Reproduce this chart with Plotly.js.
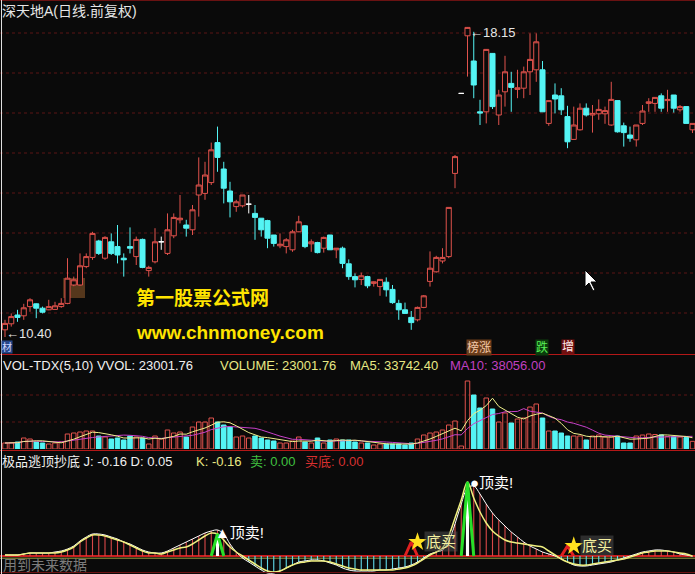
<!DOCTYPE html>
<html><head><meta charset="utf-8">
<script src="https://cdn.plot.ly/plotly-3.0.1.min.js"></script>
<style>html,body{margin:0;padding:0;background:#0a0a0a;}#c{width:695px;height:574px;}</style>
</head><body><div id="c"></div>
<script>
// ---- data ----
const stockName = '深天地A(日线.前复权)';
const opens = [10.58,10.73,10.95,10.93,11.16,11.23,11.12,11.08,11.09,11.16, 11.24,11.70,11.70,12.16,12.39,12.80,12.37,12.78,12.66,12.37, 12.66,12.41,12.84,12.06,12.28,12.78,12.49,12.93,13.33,13.20, 13.08,13.95,13.99,14.26,15.26,14.60,14.05,13.66,13.68,13.72, 13.49,13.37,13.31,12.95,12.68,12.66,12.58,13.03,13.18,12.73, 12.76,12.62,12.95,12.58,12.62,12.23,11.91,11.84,11.91,11.74, 11.66,11.77,11.59,11.24,11.08,10.89,10.83,11.14,11.79,12.03, 12.30,12.41,14.49,16.49,17.93,17.30,16.03,16.03,17.49,15.95, 16.53,16.74,16.59,16.62,17.03,17.08,17.08,15.74,16.45,16.43, 15.91,15.34,15.58,16.12,15.95,15.98,15.98,15.70,16.31,15.68, 15.45,15.33,15.74,16.24,16.24,16.43,16.31,16.45,16.08,16.16, 15.58];
const highs = [10.83,10.99,11.08,11.23,11.37,11.24,11.16,11.33,11.28,11.37, 12.37,11.91,12.49,12.49,13.03,12.83,12.92,12.99,13.20,12.49, 13.14,12.91,12.86,12.18,13.12,12.91,13.49,13.49,13.95,13.33, 13.70,14.89,14.78,15.26,15.66,14.78,14.28,13.83,13.95,13.95, 13.70,13.37,13.33,12.95,12.99,12.87,13.08,13.43,13.20,12.84, 12.78,12.91,12.95,12.62,12.66,12.34,11.99,12.01,11.93,11.79, 11.84,11.89,11.70,11.33,11.26,11.05,11.16,11.45,12.54,12.43, 12.62,13.64,14.95,16.49,18.15,18.03,16.33,17.60,17.50,16.58, 17.43,17.03,17.08,17.16,17.99,17.99,17.30,16.31,16.74,16.62, 16.18,16.16,16.24,16.24,16.20,16.34,16.16,16.78,16.31,15.76, 15.66,15.70,16.20,16.37,16.40,16.49,16.58,16.45,16.20,16.16, 15.74];
const lows = [10.40,10.66,10.78,10.83,11.03,10.87,10.99,11.07,11.08,11.13, 11.22,11.67,11.68,12.12,12.33,12.45,12.33,12.45,12.24,11.91, 12.49,12.20,12.12,11.91,12.24,12.58,12.45,12.87,13.24,12.91, 12.95,13.41,13.83,14.20,14.53,13.74,13.39,13.53,13.64,13.49, 12.83,12.91,12.62,12.66,12.62,12.49,12.53,13.02,12.62,12.53, 12.49,12.51,12.58,12.37,12.12,11.83,11.64,11.70,11.62,11.66, 11.43,11.41,11.23,10.83,10.98,10.58,10.79,11.12,11.66,12.01, 12.24,12.37,14.12,16.49,16.91,16.37,15.70,15.74,16.10,15.70, 16.16,16.03,16.37,16.37,16.45,16.78,16.03,15.68,15.99,15.95, 15.12,15.33,15.56,15.91,15.51,15.83,15.73,15.68,15.51,15.16, 15.28,15.16,15.70,16.03,16.03,16.03,16.03,16.01,16.03,15.74, 15.50];
const closes = [10.74,10.91,10.89,11.13,11.33,11.12,11.02,11.16,11.18,11.24, 11.87,11.83,12.18,12.41,12.99,12.49,12.89,12.49,12.45,12.33, 12.62,12.84,12.14,12.14,12.78,12.78,13.08,13.39,13.37,13.12, 13.58,14.20,14.45,15.08,14.89,14.12,13.78,13.78,13.95,13.72, 13.39,13.08,12.87,12.74,12.72,12.83,13.03,13.28,12.66,12.78, 12.51,12.89,12.58,12.62,12.24,11.91,11.83,11.93,11.68,11.78, 11.84,11.58,11.26,11.08,10.99,10.76,11.14,11.43,12.12,12.39, 12.39,13.64,14.91,16.49,18.14,16.70,16.00,17.59,16.16,16.45, 17.03,16.64,16.63,17.03,17.34,17.78,16.03,16.31,16.35,16.08, 15.28,15.70,16.12,15.95,15.99,16.09,16.06,16.34,15.53,15.51, 15.37,15.70,16.05,16.28,16.39,16.12,16.34,16.12,16.16,15.74, 15.74];
const volumes = [18000,18000,21000,33000,30000,21000,18000,15000,18000,21000, 45000,48000,51000,54000,54000,39000,36000,30000,33000,27000, 39000,36000,33000,15000,39000,30000,57000,48000,51000,36000, 66000,81000,81000,93000,81000,72000,66000,36000,39000,33000, 39000,33000,27000,24000,18000,18000,24000,36000,21000,18000, 33000,18000,27000,30000,27000,27000,21000,18000,18000,12000, 15000,15000,15000,15000,12000,18000,30000,42000,48000,51000, 57000,72000,84000,9000,204000,162000,123000,153000,120000,81000, 108000,78000,90000,93000,126000,135000,93000,54000,54000,48000, 39000,39000,39000,27000,39000,42000,36000,36000,39000,18000, 18000,39000,42000,45000,43500,42348,37500,37500,36000,34710.24, 23001.76];
// indicator lines
const lineK = [1,1,1,2,3,3,3,3,3,4, 6,9,14,18,21,21,20,18,16,14, 11,8,5,3,3,2,4,6,8,9, 12,16,20,23,22,16,9,4,0,-4, -8,-12,-15,-16,-15,-12,-9,-7,-6,-5, -5,-5,-6,-8,-10,-12,-13,-14,-14,-14, -14,-14,-14,-13,-12,-10,-7,-3,1,4, 8,20,38,56,74,58,44,33,25,20, 16,14,13,12,11,10,9,5,1,-3, -6,-8,-9,-9,-8,-7,-6,-5,-4,-3, -1,1,3,4,5,5,5,4,3,2, -0.16];
const lineJ = [1,1,1,2,3,3,3,3,4,5, 7,10,15,19,22,22,21,19,17,14, 12,9,6,4,3,3,5,8,11,14, 17,20,23,25,26,22,12,4,-2,-6, -10,-14,-17,-17,-15,-12,-9,-6,-5,-4, -4,-5,-7,-9,-12,-14,-15,-15,-15,-15, -14,-14,-13,-12,-11,-9,-6,-2,2,4, 6,15,32,52,68,70,62,52,43,36, 30,24,19,14,10,7,4,2,0,-3, -6,-9,-10,-10,-9,-8,-7,-6,-4,-2, 0,2,4,5,6,6,5,4,2,1, -0.16];
const lastD = 0.05;
const sellIdx = [34, 74];
const buyIdx = [65, 90];
const buyHeight = [14, 10];
const sellValue = 0.00, buyValue = 0.00;

// ---- drawing ----
const W = 695, H = 574;
const FONT = 'Liberation Sans, Arial, Noto Sans CJK SC, sans-serif';
const RED = '#e0524c', CYAN = '#54f4f4', BG = '#0a0a0a';
const idx = opens.map((_, i) => i);
const pick = (a, ids) => ids.map(i => a[i]);
const upIdx = idx.filter(i => closes[i] > opens[i]);
const dnIdx = idx.filter(i => closes[i] < opens[i]);
const djIdx = idx.filter(i => closes[i] === opens[i]);
function candle(ids, col, fill) {
  return {type: 'candlestick', x: ids, open: pick(opens, ids), high: pick(highs, ids), low: pick(lows, ids), close: pick(closes, ids),
    increasing: {line: {color: col, width: 1}, fillcolor: fill}, decreasing: {line: {color: col, width: 1}, fillcolor: fill},
    whiskerwidth: 0, xaxis: 'x', yaxis: 'y', hoverinfo: 'skip', showlegend: false};
}
function ma(arr, n) { return arr.map((_, i) => { const s = arr.slice(Math.max(0, i - n + 1), i + 1); return s.reduce((a, b) => a + b, 0) / s.length; }); }
const ma5 = ma(volumes, 5), ma10 = ma(volumes, 10);
const isUp = i => closes[i] >= opens[i];

const traces = [
  candle(upIdx, RED, BG), candle(dnIdx, CYAN, CYAN), candle(djIdx, '#ffffff', '#ffffff'),
  {type: 'bar', x: idx, y: volumes, xaxis: 'x', yaxis: 'y2', width: 0.72,
   marker: {color: idx.map(i => isUp(i) ? 'rgba(0,0,0,0)' : CYAN), line: {color: idx.map(i => isUp(i) ? RED : CYAN), width: 1}}, hoverinfo: 'skip', showlegend: false},
  {type: 'scatter', mode: 'lines', x: idx, y: ma10, xaxis: 'x', yaxis: 'y2', line: {color: '#c840c8', width: 1}, hoverinfo: 'skip', showlegend: false},
  {type: 'scatter', mode: 'lines', x: idx, y: ma5, xaxis: 'x', yaxis: 'y2', line: {color: '#f0f08c', width: 1}, hoverinfo: 'skip', showlegend: false},
  {type: 'bar', x: idx, y: lineJ, xaxis: 'x', yaxis: 'y3', width: 0.18,
   marker: {color: lineJ.map(v => v >= 0 ? '#d84848' : '#60d8e8'), line: {width: 0}}, hoverinfo: 'skip', showlegend: false},
  {type: 'scatter', mode: 'lines', x: idx, y: lineJ, xaxis: 'x', yaxis: 'y3', line: {color: '#ffffff', width: 1, shape: 'spline'}, hoverinfo: 'skip', showlegend: false},
  {type: 'scatter', mode: 'lines', x: idx, y: lineK, xaxis: 'x', yaxis: 'y3', line: {color: '#f0f080', width: 1.5, shape: 'spline'}, hoverinfo: 'skip', showlegend: false}
];
// sell signals: green spike + white bar
sellIdx.forEach(s => {
  traces.push({type: 'scatter', mode: 'lines', x: [s - 1, s, s + 1], y: [0, lineK[s], 0], xaxis: 'x', yaxis: 'y3', line: {color: '#28e028', width: 3}, hoverinfo: 'skip', showlegend: false});
  traces.push({type: 'bar', x: [s], y: [lineK[s]], xaxis: 'x', yaxis: 'y3', width: 0.5, marker: {color: '#ffffff'}, hoverinfo: 'skip', showlegend: false});
});
// buy signals: red spike + yellow star
buyIdx.forEach((b, k) => {
  traces.push({type: 'scatter', mode: 'lines', x: [b - 1, b, b + 1], y: [0, buyHeight[k], 0], xaxis: 'x', yaxis: 'y3', line: {color: '#e02020', width: 3}, hoverinfo: 'skip', showlegend: false});
  traces.push({type: 'scatter', mode: 'markers', x: [b + 1], y: [buyHeight[k]], xaxis: 'x', yaxis: 'y3', marker: {symbol: 'star', size: 14, color: '#ffe020', line: {width: 0}}, hoverinfo: 'skip', showlegend: false});
});

const px = v => v / W, py = v => 1 - v / H;
function txt(text, x, y, color, size, extra) {
  return Object.assign({xref: 'paper', yref: 'paper', x: px(x), y: py(y), xanchor: 'left', yanchor: 'middle', showarrow: false, text: text,
    font: {family: FONT, size: size, color: color}, borderpad: 0}, extra || {});
}
const hiI = highs.indexOf(Math.max(...highs)), loI = lows.indexOf(Math.min(...lows));
const n = volumes.length - 1;
const annotations = [
  txt(stockName, 1, 11, '#e6e6e6', 14),
  {xref: 'x', yref: 'y', x: hiI, y: highs[hiI], xanchor: 'left', yanchor: 'middle', xshift: 0, yshift: -5, showarrow: false, text: '←' + highs[hiI].toFixed(2), font: {family: FONT, size: 13, color: '#e6e6e6'}},
  {xref: 'x', yref: 'y', x: loI, y: lows[loI], xanchor: 'left', yanchor: 'middle', xshift: -1, yshift: 4, showarrow: false, text: '←' + lows[loI].toFixed(2), font: {family: FONT, size: 13, color: '#e6e6e6'}},
  txt('<b>第一股票公式网</b>', 135, 298, '#ffe400', 19),
  txt('<b>www.chnmoney.com</b>', 135, 332, '#ffe400', 19),
  txt('材', 1, 347, '#d0d8ff', 10, {bgcolor: '#26468a'}),
  txt('榜涨', 466, 347, '#f4c8a8', 12, {bgcolor: '#6a3c1a'}),
  txt('跌', 535, 347, '#58f058', 12, {bgcolor: '#0c3c0c'}),
  txt('增', 561, 347, '#ffe8e8', 12, {bgcolor: '#701010'}),
  txt('VOL-TDX(5,10) VVOL: ' + volumes[n].toFixed(2), 2, 365, '#f0f0f0', 13),
  txt('VOLUME: ' + volumes[n].toFixed(2), 219, 365, '#e8e884', 13),
  txt('MA5: ' + ma5[n].toFixed(2), 349, 365, '#e8e884', 13),
  txt('MA10: ' + ma10[n].toFixed(2), 449, 365, '#c040c0', 13),
  txt('极品逃顶抄底 J: ' + lineJ[n].toFixed(2) + ' D: ' + lastD.toFixed(2), 1, 461, '#f0f0f0', 13),
  txt('K: ' + lineK[n].toFixed(2), 195, 461, '#e8e884', 13),
  txt('卖: ' + sellValue.toFixed(2), 249, 461, '#40c040', 13),
  txt('买底: ' + buyValue.toFixed(2), 304, 461, '#d83030', 13),
  txt('用到未来数据', 2, 565, '#7c7c7c', 14)
];
const sellGlyph = ['▲', '●'];
sellIdx.forEach((s, k) => annotations.push({xref: 'x', yref: 'y3', x: s, y: lineK[s], xanchor: 'left', yanchor: 'middle', xshift: k === 0 ? -5 : 0, yshift: k === 0 ? 1 : -1, showarrow: false,
  text: sellGlyph[k] + '顶卖!', font: {family: FONT, size: 15, color: '#ffffff'}}));
buyIdx.forEach((b, k) => annotations.push({xref: 'x', yref: 'y3', x: b + 2, y: buyHeight[k], xanchor: 'left', yanchor: 'middle', showarrow: false,
  text: '底买', font: {family: FONT, size: 15, color: '#f4f0a0'}, bgcolor: 'rgba(90,90,90,0.45)'}));

const shapes = [];
for (let p = 11; p <= 18; p++) shapes.push({type: 'line', xref: 'paper', x0: 0, x1: 1, yref: 'y', y0: p, y1: p, layer: 'below', line: {color: '#5a1414', width: 1, dash: 'dot'}});
[81000, 162000].forEach(v => shapes.push({type: 'line', xref: 'paper', x0: 0, x1: 1, yref: 'y2', y0: v, y1: v, layer: 'below', line: {color: '#5a1414', width: 1, dash: 'dot'}}));
shapes.push({type: 'line', xref: 'paper', x0: 0, x1: 1, yref: 'y3', y0: 0, y1: 0, layer: 'below', line: {color: '#c81e1e', width: 2}});
shapes.push({type: 'line', xref: 'paper', x0: 0, x1: 1, yref: 'y3', y0: -2.2, y1: -2.2, layer: 'below', line: {color: '#9aa040', width: 1}});
[[0.5, '#6a1212'], [354.5, '#b41818'], [450.5, '#b41818'], [572.5, '#6a1212']].forEach(([y, c]) =>
  shapes.push({type: 'line', xref: 'paper', yref: 'paper', x0: 0, x1: 1, y0: py(y), y1: py(y), line: {color: c, width: 1}}));
shapes.push({type: 'line', xref: 'paper', yref: 'paper', x0: px(1.5), x1: px(1.5), y0: 0, y1: 1, line: {color: '#e0e0e0', width: 1}});
// info-mine highlight box
shapes.push({type: 'rect', xref: 'x', yref: 'y', x0: 9.3, x1: 12.8, y0: 11.375, y1: 11.875, line: {width: 0}, fillcolor: 'rgba(160,100,45,0.5)', layer: 'below'});
// mouse cursor
const cur = [[585, 270], [585, 287], [589, 283], [593, 291], [595, 290], [591, 282], [597, 282]];
shapes.push({type: 'path', xref: 'paper', yref: 'paper', path: 'M ' + cur.map(p => px(p[0]) + ',' + py(p[1])).join(' L ') + ' Z', fillcolor: '#ffffff', line: {color: '#000000', width: 1}});

const ax = {showgrid: false, zeroline: false, showticklabels: false, showline: false, ticks: '', fixedrange: true};
const layout = {
  width: W, height: H, margin: {l: 0, r: 0, t: 0, b: 0}, paper_bgcolor: BG, plot_bgcolor: BG,
  showlegend: false, barmode: 'overlay', boxgap: 0.1, boxgroupgap: 0.1,
  xaxis: Object.assign({}, ax, {range: [-0.8, 110.4], rangeslider: {visible: false}, anchor: 'y3'}),
  yaxis: Object.assign({}, ax, {domain: [0.38328, 1], range: [9.975, 18.825], anchor: 'x'}),
  yaxis2: Object.assign({}, ax, {domain: [0.21777, 0.38153], range: [0, 282000], anchor: 'x'}),
  yaxis3: Object.assign({}, ax, {domain: [0, 0.21603], range: [-18, 106], anchor: 'x'}),
  annotations: annotations, shapes: shapes
};
Plotly.newPlot('c', traces, layout, {displayModeBar: false, staticPlot: true});
</script></body></html>
